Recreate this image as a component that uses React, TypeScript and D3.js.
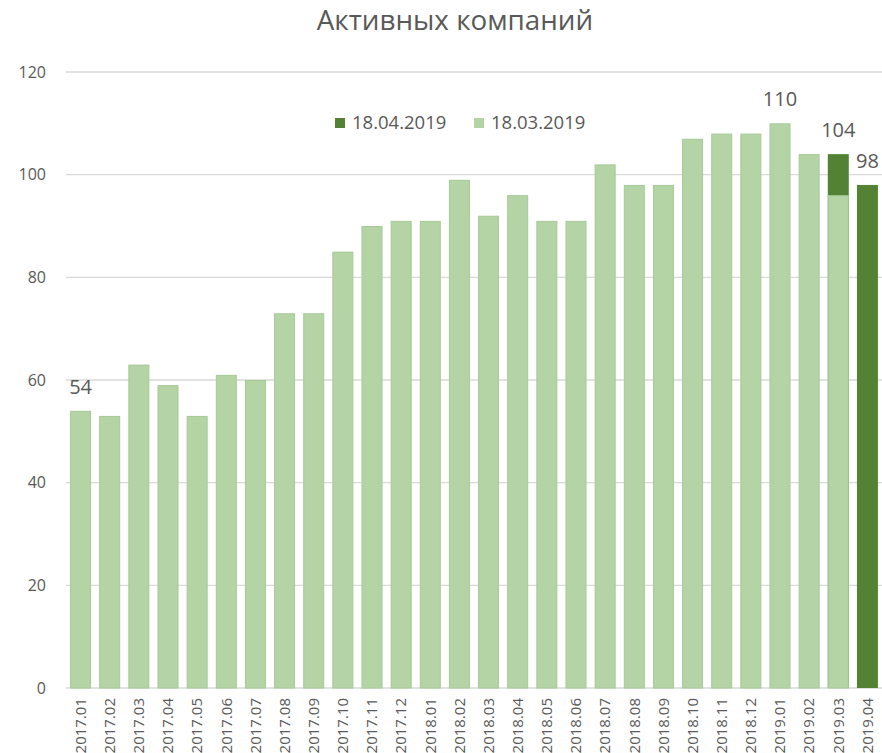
import React from 'react';
import * as d3 from 'd3';

const months = [
  '2017.01', '2017.02', '2017.03', '2017.04', '2017.05', '2017.06', '2017.07',
  '2017.08', '2017.09', '2017.10', '2017.11', '2017.12', '2018.01', '2018.02',
  '2018.03', '2018.04', '2018.05', '2018.06', '2018.07', '2018.08', '2018.09',
  '2018.10', '2018.11', '2018.12', '2019.01', '2019.02', '2019.03', '2019.04',
];

// 18.03.2019 snapshot (light)
const march = [
  54, 53, 63, 59, 53, 61, 60, 73, 73, 85, 90, 91, 91, 99,
  92, 96, 91, 91, 102, 98, 98, 107, 108, 108, 110, 104, 96, null,
];

// 18.04.2019 snapshot (dark) - only visible where it differs
const april = [
  null, null, null, null, null, null, null, null, null, null, null, null, null, null,
  null, null, null, null, null, null, null, null, null, null, null, null, 104, 98,
];

const labelled = ['2017.01', '2019.01', '2019.03', '2019.04'];
const yTicks = [0, 20, 40, 60, 80, 100, 120];

const W = 882;
const H = 753;
const DARK = '#548235';
const LIGHT = '#b4d4a5';
const LIGHT_EDGE = '#a6c996';
const TEXT = '#595959';
const FONT = '"Open Sans", "Liberation Sans", Arial, sans-serif';

export default function App() {
  const x = d3.scaleBand<string>().domain(months).range([66, 882]).paddingInner(0.28).paddingOuter(0.14);
  const y = d3.scaleLinear().domain([0, 120]).range([688, 72]);

  return (
    <svg width={W} height={H} style={{ position: 'absolute', left: 0, top: 0, background: '#fff' }}>
      <text x={455} y={30} textAnchor="middle" fontFamily={FONT} fontSize={27.8} fill={TEXT}>
        Активных компаний
      </text>

      {yTicks.map(t => (
        <g key={t}>
          <line x1={66} x2={882} y1={y(t)} y2={y(t)} stroke="#d9d9d9" strokeWidth={1.3} />
          <text x={46} y={y(t)} dy="0.35em" textAnchor="end" fontFamily={FONT} fontSize={16} fill={TEXT}>
            {t}
          </text>
        </g>
      ))}

      {months.map((m, i) => {
        const v = april[i];
        if (v == null) return null;
        return (
          <rect key={'a' + m} x={x(m)} y={y(v)} width={x.bandwidth()} height={y(0) - y(v)} fill={DARK} />
        );
      })}

      {months.map((m, i) => {
        const v = march[i];
        if (v == null) return null;
        return (
          <rect key={'m' + m} x={x(m)! + 0.5} y={y(v) + 0.5} width={x.bandwidth() - 1} height={y(0) - y(v) - 0.5}
            fill={LIGHT} stroke={LIGHT_EDGE} strokeWidth={1} />
        );
      })}

      {months.map((m, i) => {
        if (!labelled.includes(m)) return null;
        const v = Math.max(april[i] ?? 0, march[i] ?? 0);
        return (
          <text key={'l' + m} x={x(m)! + x.bandwidth() / 2} y={y(v) - 17} textAnchor="middle"
            fontFamily={FONT} fontSize={20} fill={TEXT}>
            {v}
          </text>
        );
      })}

      {months.map(m => (
        <text key={'x' + m} transform={`translate(${x(m)! + x.bandwidth() / 2},698) rotate(-90)`}
          dy="0.35em" textAnchor="end" fontFamily={FONT} fontSize={15} fill={TEXT}>
          {m}
        </text>
      ))}

      <g transform="translate(335,118)">
        <rect x={0} y={0} width={10} height={10} fill={DARK} />
        <text x={17} y={5} dy="0.35em" fontFamily={FONT} fontSize={18.5} fill={TEXT}>18.04.2019</text>
        <rect x={139} y={0} width={10} height={10} fill={LIGHT} />
        <text x={156} y={5} dy="0.35em" fontFamily={FONT} fontSize={18.5} fill={TEXT}>18.03.2019</text>
      </g>
    </svg>
  );
}
